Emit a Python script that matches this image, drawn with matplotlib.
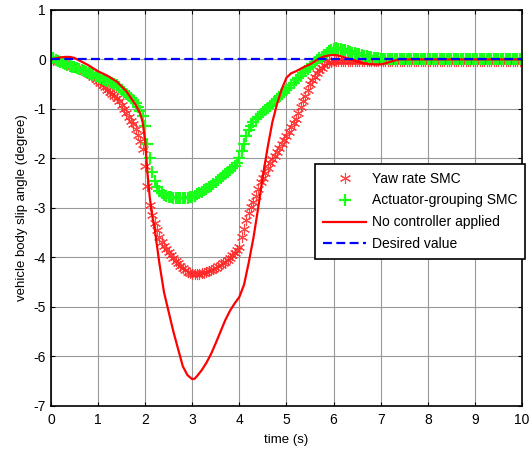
import matplotlib
matplotlib.use("Agg")
import matplotlib.pyplot as plt
import numpy as np

plt.rcParams['font.family'] = ['Liberation Sans', 'DejaVu Sans']

# time base for marker series (0.05 s sampling)
t_smc = [round(0.05 * i, 2) for i in range(201)]

yaw_rate_smc = [
    0.00, -0.01, -0.02, -0.03, -0.05, -0.06, -0.08, -0.09, -0.11, -0.13,
    -0.15, -0.17, -0.19, -0.21, -0.24, -0.26, -0.29, -0.32, -0.36, -0.40,
    -0.44, -0.48, -0.52, -0.56, -0.61, -0.66, -0.70, -0.74, -0.78, -0.85,
    -0.92, -1.00, -1.08, -1.16, -1.24, -1.31, -1.41, -1.52, -1.64, -1.80,
    -2.15, -2.55, -2.95, -3.15, -3.30, -3.45, -3.58, -3.68, -3.76, -3.84,
    -3.90, -3.96, -4.01, -4.07, -4.12, -4.17, -4.22, -4.26, -4.29, -4.31,
    -4.33, -4.34, -4.34, -4.33, -4.32, -4.31, -4.30, -4.28, -4.26, -4.24,
    -4.21, -4.18, -4.15, -4.12, -4.09, -4.05, -4.01, -3.96, -3.91, -3.85,
    -3.78, -3.58, -3.42, -3.25, -3.10, -2.98, -2.88, -2.76, -2.62, -2.48,
    -2.40, -2.30, -2.20, -2.10, -2.02, -1.95, -1.87, -1.79, -1.71, -1.63,
    -1.55, -1.46, -1.37, -1.28, -1.20, -1.08, -0.96, -0.85, -0.73, -0.61,
    -0.50, -0.42, -0.35, -0.28, -0.22, -0.17, -0.12, -0.08, -0.06, -0.05,
    -0.04, -0.03, -0.03, -0.03, -0.03, -0.03, -0.03, -0.03, -0.03, -0.03,
    -0.03, -0.03, -0.03, -0.03, -0.03, -0.03, -0.03, -0.03, -0.03, -0.03,
    -0.03, -0.03, -0.03, -0.03, -0.03, -0.03, -0.03, -0.03, -0.03, -0.03,
    -0.03, -0.03, -0.03, -0.03, -0.03, -0.03, -0.03, -0.03, -0.03, -0.03,
    -0.03, -0.03, -0.03, -0.03, -0.03, -0.03, -0.03, -0.03, -0.03, -0.03,
    -0.03, -0.03, -0.03, -0.03, -0.03, -0.03, -0.03, -0.03, -0.03, -0.03,
    -0.03, -0.03, -0.03, -0.03, -0.03, -0.03, -0.03, -0.03, -0.03, -0.03,
    -0.03, -0.03, -0.03, -0.03, -0.03, -0.03, -0.03, -0.03, -0.03, -0.03,
    -0.03,
]

actuator_grouping_smc = [
    0.05, 0.02, -0.01, -0.03, -0.05, -0.07, -0.09, -0.11, -0.13, -0.15,
    -0.16, -0.18, -0.20, -0.22, -0.24, -0.26, -0.28, -0.30, -0.32, -0.33,
    -0.35, -0.37, -0.39, -0.41, -0.43, -0.45, -0.47, -0.49, -0.52, -0.56,
    -0.61, -0.66, -0.70, -0.74, -0.78, -0.83, -0.89, -0.96, -1.04, -1.15,
    -1.35, -1.70, -2.00, -2.27, -2.45, -2.58, -2.65, -2.70, -2.73, -2.75,
    -2.77, -2.78, -2.79, -2.79, -2.80, -2.80, -2.80, -2.80, -2.79, -2.78,
    -2.77, -2.75, -2.72, -2.70, -2.67, -2.64, -2.61, -2.58, -2.55, -2.51,
    -2.47, -2.43, -2.39, -2.35, -2.31, -2.27, -2.23, -2.19, -2.15, -2.10,
    -2.00, -1.85, -1.70, -1.54, -1.42, -1.34, -1.27, -1.21, -1.16, -1.11,
    -1.07, -1.03, -0.99, -0.95, -0.90, -0.85, -0.80, -0.75, -0.70, -0.66,
    -0.62, -0.57, -0.52, -0.47, -0.42, -0.38, -0.33, -0.28, -0.23, -0.19,
    -0.15, -0.10, -0.05, -0.01, 0.02, 0.05, 0.09, 0.13, 0.17, 0.20,
    0.22, 0.23, 0.22, 0.21, 0.20, 0.18, 0.17, 0.15, 0.13, 0.12,
    0.11, 0.10, 0.09, 0.07, 0.06, 0.05, 0.04, 0.03, 0.02, 0.02,
    0.01, 0.01, 0.00, 0.00, 0.00, 0.00, 0.00, 0.00, 0.00, 0.00,
    0.00, 0.00, 0.00, 0.00, 0.00, 0.00, 0.00, 0.00, 0.00, 0.00,
    0.00, 0.00, 0.00, 0.00, 0.00, 0.00, 0.00, 0.00, 0.00, 0.00,
    0.00, 0.00, 0.00, 0.00, 0.00, 0.00, 0.00, 0.00, 0.00, 0.00,
    0.00, 0.00, 0.00, 0.00, 0.00, 0.00, 0.00, 0.00, 0.00, 0.00,
    0.00, 0.00, 0.00, 0.00, 0.00, 0.00, 0.00, 0.00, 0.00, 0.00,
    0.00,
]

t_noctrl = [0.0, 0.1, 0.2, 0.3, 0.4, 0.5, 0.6, 0.8, 1.0, 1.2, 1.4, 1.6, 1.7, 1.8, 1.9,
            1.95, 2.0, 2.05, 2.1, 2.15, 2.2, 2.3, 2.4, 2.5, 2.6, 2.7, 2.8, 2.9, 3.0,
            3.05, 3.1, 3.2, 3.3, 3.4, 3.5, 3.6, 3.7, 3.8, 3.9, 4.0, 4.1, 4.2, 4.3,
            4.4, 4.5, 4.6, 4.7, 4.8, 4.9, 5.0, 5.1, 5.2, 5.3, 5.4, 5.5, 5.6, 5.7,
            5.8, 5.9, 6.0, 6.1, 6.2, 6.3, 6.4, 6.5, 6.6, 6.7, 6.8, 6.9, 7.0, 7.1,
            7.2, 7.3, 7.4, 7.5, 10.0]
no_controller = [0.0, 0.02, 0.04, 0.05, 0.05, 0.03, -0.02, -0.12, -0.24, -0.33, -0.45,
                 -0.64, -0.78, -0.92, -1.10, -1.28, -1.64, -2.30, -2.80, -3.15, -3.40,
                 -4.10, -4.70, -5.10, -5.50, -5.85, -6.20, -6.38, -6.46, -6.45, -6.40,
                 -6.28, -6.13, -5.95, -5.73, -5.50, -5.27, -5.08, -4.93, -4.80, -4.55,
                 -4.10, -3.60, -3.00, -2.35, -1.78, -1.27, -0.90, -0.60, -0.37, -0.28,
                 -0.24, -0.19, -0.14, -0.10, -0.04, 0.02, 0.06, 0.08, 0.09, 0.08, 0.05,
                 0.02, -0.01, -0.04, -0.07, -0.09, -0.10, -0.10, -0.10, -0.08, -0.05,
                 -0.02, 0.0, 0.0, 0.0]

t_desired = [0.0, 10.0]
desired = [0.0, 0.0]

x_ticks = [0, 1, 2, 3, 4, 5, 6, 7, 8, 9, 10]
y_ticks = [-7, -6, -5, -4, -3, -2, -1, 0, 1]

fig = plt.figure(figsize=(5.3, 4.5), dpi=100)
ax = fig.add_axes([0.096, 0.098, 0.889, 0.880])

ax.plot(t_smc, yaw_rate_smc, linestyle='none', marker=(6, 2, 0), color=(1.0, 0.15, 0.15),
        markersize=8, markeredgewidth=0.8, alpha=0.85, label='Yaw rate SMC')
ax.plot(t_smc, actuator_grouping_smc, linestyle='none', marker='+', color=(0.1, 1.0, 0.1),
        markersize=8.5, markeredgewidth=1.6, label='Actuator-grouping SMC')
ax.plot(t_noctrl, no_controller, '-', color=(1.0, 0.0, 0.0), linewidth=1.6,
        label='No controller applied')
ax.plot(t_desired, desired, '--', color=(0.0, 0.0, 1.0), linewidth=1.6,
        dashes=(4, 2), label='Desired value')

ax.set_xlim(0, 10)
ax.set_ylim(-7, 1)
ax.set_xticks(x_ticks)
ax.set_yticks(y_ticks)
ax.set_xticklabels([str(v) for v in x_ticks])
ax.set_yticklabels([str(v) for v in y_ticks])
ax.tick_params(direction='in', top=True, right=True, labelsize=10, length=3, width=0.8)
ax.tick_params(axis='x', pad=5)
ax.grid(True, color='#999999', linewidth=0.8)
ax.set_axisbelow(True)
for s in ax.spines.values():
    s.set_linewidth(1.2)

ax.set_xlabel('time (s)', fontsize=9.5, labelpad=5)
ax.set_ylabel('vehicle body slip angle (degree)', fontsize=9.5, labelpad=4)

leg = ax.legend(loc='upper right', bbox_to_anchor=(1.006, 0.611), fontsize=10,
                fancybox=False, framealpha=1, edgecolor='black', borderpad=0.55,
                labelspacing=0.57, handlelength=3.1, handletextpad=0.4, borderaxespad=0)
leg.get_frame().set_linewidth(1.2)

fig.savefig('out.png', dpi=100)
